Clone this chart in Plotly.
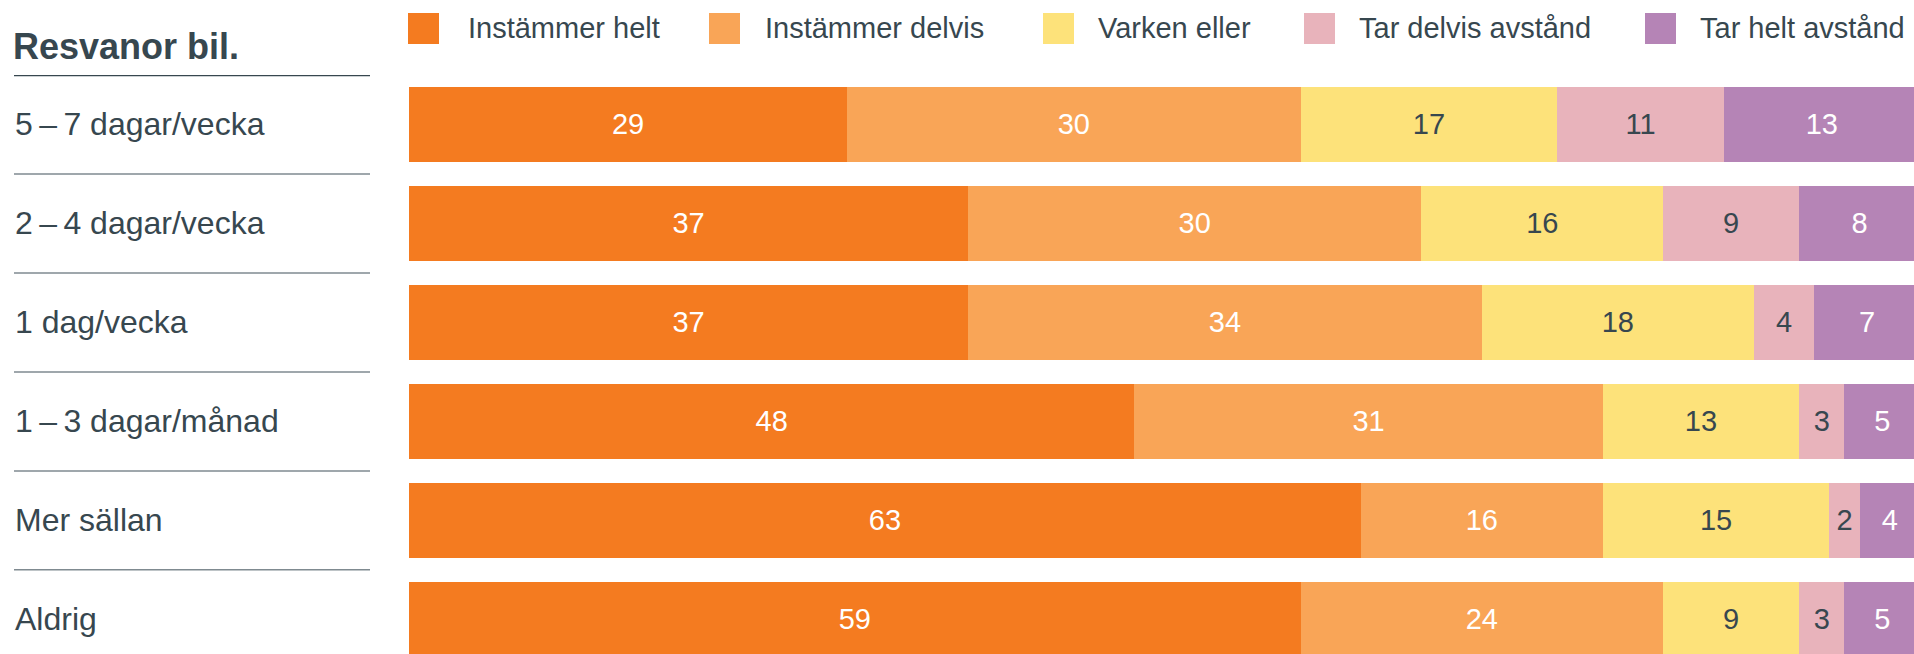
import plotly.graph_objects as go

W, H = 1914, 654
LEFT, TOP = 409, 75

categories = [
    "5\u2009\u2013\u20097 dagar/vecka",
    "2\u2009\u2013\u20094 dagar/vecka",
    "1 dag/vecka",
    "1\u2009\u2013\u20093 dagar/månad",
    "Mer sällan",
    "Aldrig",
]
series_names = [
    "Instämmer helt",
    "Instämmer delvis",
    "Varken eller",
    "Tar delvis avstånd",
    "Tar helt avstånd",
]
instammer_helt = [29, 37, 37, 48, 63, 59]
instammer_delvis = [30, 30, 34, 31, 16, 24]
varken_eller = [17, 16, 18, 13, 15, 9]
tar_delvis = [11, 9, 4, 3, 2, 3]
tar_helt = [13, 8, 7, 5, 4, 5]
title = "Resvanor bil."

series_values = [instammer_helt, instammer_delvis, varken_eller, tar_delvis, tar_helt]
colors = ["#F47B20", "#F9A557", "#FDE27A", "#E8B3BB", "#B584B6"]
text_colors = ["#FFFFFF", "#FFFFFF", "#37474F", "#37474F", "#FFFFFF"]
DARK = "#37474F"
FONT = "Liberation Sans"

# legend item pixel positions (square left, text left)
legend_square_x = [408, 709, 1043, 1304, 1645]
legend_text_x = [466, 763, 1096, 1357, 1698]

plot_w = W - LEFT
plot_h = H - TOP


def px_x(px):
    return (px - LEFT) / plot_w


def px_y(py):
    return 1 + (TOP - py) / plot_h


fig = go.Figure()
for name, vals, color, tcolor in zip(series_names, series_values, colors, text_colors):
    fig.add_trace(go.Bar(
        y=categories,
        x=vals,
        name=name,
        orientation="h",
        marker=dict(color=color, line=dict(width=0)),
        text=[str(v) for v in vals],
        textposition="inside",
        insidetextanchor="middle",
        textangle=0,
        textfont=dict(color=tcolor, size=29, family=FONT),
        showlegend=False,
        hovertemplate=f"<b>%{{y}}</b><br>{name}: %{{x}}<extra></extra>",
    ))

shapes = []
annotations = []

# row labels and separators on the left
for cat in categories:
    annotations.append(dict(
        x=px_x(13), xref="paper", y=cat, yref="y",
        text=cat, showarrow=False, xanchor="left", yanchor="middle",
        font=dict(size=32, color=DARK, family=FONT),
    ))
for i in range(len(categories) - 1):
    shapes.append(dict(
        type="line", xref="paper", yref="y",
        x0=px_x(14), x1=px_x(370), y0=i + 0.5, y1=i + 0.5,
        line=dict(color="#7F8A90", width=1.5),
    ))
shapes.append(dict(
    type="line", xref="paper", yref="y",
    x0=px_x(14), x1=px_x(370), y0=-0.5, y1=-0.5,
    line=dict(color=DARK, width=2.5),
))

annotations.append(dict(
    x=px_x(11), xref="paper", y=px_y(47), yref="paper",
    text=f"<b>{title}</b>", showarrow=False, xanchor="left", yanchor="middle",
    font=dict(size=36, color=DARK, family=FONT),
))

# custom legend
for name, color, sx, tx in zip(series_names, colors, legend_square_x, legend_text_x):
    shapes.append(dict(
        type="rect", xref="paper", yref="paper",
        x0=px_x(sx), x1=px_x(sx + 31), y0=px_y(44), y1=px_y(13),
        fillcolor=color, line=dict(width=0),
    ))
    annotations.append(dict(
        x=px_x(tx), xref="paper", y=px_y(28), yref="paper",
        text=name, showarrow=False, xanchor="left", yanchor="middle",
        font=dict(size=29, color=DARK, family=FONT),
    ))

fig.update_layout(
    width=W,
    height=H,
    autosize=False,
    barmode="stack",
    bargap=0.24,
    margin=dict(l=LEFT, r=0, t=TOP, b=0, pad=0, autoexpand=False),
    plot_bgcolor="white",
    paper_bgcolor="white",
    uniformtext=dict(minsize=29, mode="show"),
    # the bars run slightly past the right edge in the original
    xaxis=dict(range=[0, 99.6], visible=False, fixedrange=True),
    yaxis=dict(range=[5.35, -0.5], showticklabels=False, showgrid=False,
               zeroline=False, showline=False, ticks="", fixedrange=True),
    shapes=shapes,
    annotations=annotations,
)

# drop the default page margin so the figure fills the window exactly
fig.write_html(
    "out.html",
    config={"displayModeBar": False},
    post_script="document.body.style.margin='0';document.body.style.overflow='hidden';",
)
